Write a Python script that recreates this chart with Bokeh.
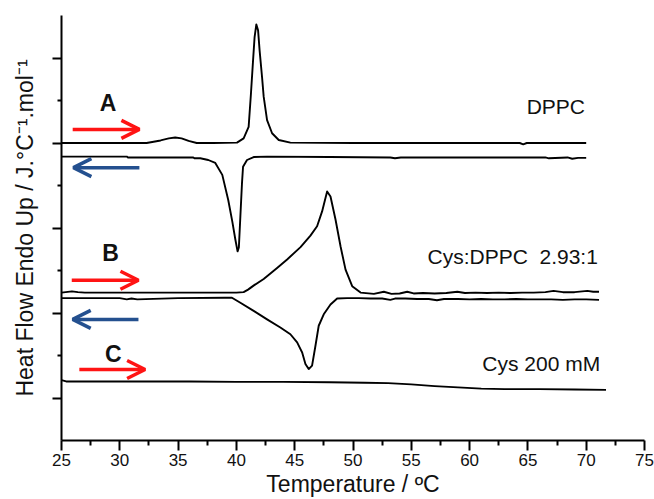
from bokeh.plotting import figure
from bokeh.models import Range1d, FixedTicker, Arrow, OpenHead
from bokeh.embed import file_html
from bokeh.resources import INLINE
from bokeh.core.properties import value

# ---------------- data ----------------
# A: DPPC heating scan
a_heat_t = [25.0, 30.0, 32.3, 33.5, 34.2, 34.75, 35.3, 35.9, 36.6, 38.0, 40.05, 40.62, 41.05,
            41.25, 41.43, 41.56, 41.71, 41.86, 41.99, 42.20, 42.34, 42.63, 43.06, 43.63,
            44.63, 50.0, 55.0, 60.0, 64.3, 64.6, 64.9, 70.0]
a_heat_hf = [7.00, 7.00, 7.00, 7.06, 7.11, 7.13, 7.11, 7.05, 7.00, 7.00, 7.01, 7.11, 7.38,
             8.17, 8.95, 9.49, 9.79, 9.65, 9.18, 8.55, 8.09, 7.54, 7.23, 7.07,
             7.01, 7.00, 7.00, 7.00, 7.00, 6.97, 7.00, 7.00]
# A: DPPC cooling scan
a_cool_t = [25.0, 30.6, 30.7, 36.3, 36.4, 36.9, 37.59, 38.19, 38.79, 39.30, 39.65, 39.91,
            40.10, 40.21, 40.34, 40.48, 40.57, 40.91, 41.48, 42.63, 48.0, 53.2, 53.6, 54.1,
            60.0, 66.5, 66.8, 68.4, 68.8, 69.3, 70.0]
a_cool_hf = [6.68, 6.68, 6.66, 6.66, 6.64, 6.64, 6.60, 6.53, 6.25, 5.66, 5.15, 4.73,
             4.45, 4.54, 5.27, 6.06, 6.44, 6.60, 6.67, 6.68, 6.67, 6.66, 6.64, 6.66,
             6.66, 6.66, 6.64, 6.66, 6.63, 6.65, 6.65]
# B: Cys:DPPC 2.93:1 heating scan
b_heat_t = [25.0, 25.9, 26.4, 27.0, 30.0, 35.0, 40.0, 40.62, 41.0, 41.5, 42.34, 43.49, 44.35,
            45.50, 46.35, 46.92, 47.35, 47.78, 48.07, 48.50, 48.93, 49.36, 49.93, 50.65,
            51.79, 52.65, 53.3, 54.0, 54.65, 55.2, 56.0, 57.0, 58.0, 58.95, 59.6, 60.5,
            61.5, 62.5, 63.5, 64.5, 65.5, 66.5, 67.2, 68.0, 69.0, 70.1, 70.6, 71.1]
b_heat_hf = [3.48, 3.51, 3.49, 3.48, 3.48, 3.48, 3.48, 3.49, 3.55, 3.65, 3.80, 4.06, 4.26,
             4.55, 4.82, 5.04, 5.39, 5.86, 5.74, 5.20, 4.57, 4.02, 3.63, 3.48,
             3.45, 3.50, 3.45, 3.46, 3.50, 3.46, 3.47, 3.46, 3.47, 3.50, 3.47, 3.48,
             3.47, 3.48, 3.47, 3.48, 3.48, 3.49, 3.52, 3.49, 3.49, 3.52, 3.50, 3.50]
# B: Cys:DPPC 2.93:1 cooling scan
b_cool_t = [25.0, 30.0, 30.6, 31.0, 31.5, 35.0, 39.0, 39.62, 40.34, 41.48, 42.63, 43.77,
            44.63, 45.21, 45.64, 45.92, 46.20, 46.49, 46.78, 47.06, 47.49, 48.07, 48.64,
            49.5, 50.5, 51.5, 52.5, 53.2, 53.6, 54.5, 55.5, 56.5, 57.2, 57.8, 59.0, 60.0,
            61.0, 62.0, 63.0, 64.0, 65.0, 66.0, 67.0, 68.0, 69.0, 70.0, 71.1]
b_cool_hf = [3.35, 3.35, 3.32, 3.34, 3.32, 3.35, 3.36, 3.36, 3.24, 3.05, 2.85, 2.66,
             2.50, 2.31, 2.07, 1.80, 1.68, 1.76, 2.23, 2.70, 2.97, 3.20, 3.34,
             3.35, 3.35, 3.34, 3.34, 3.31, 3.34, 3.34, 3.33, 3.33, 3.30, 3.33, 3.33, 3.32,
             3.33, 3.32, 3.32, 3.33, 3.32, 3.32, 3.32, 3.31, 3.32, 3.32, 3.31]
# C: Cys 200 mM heating scan
c_heat_t = [25.0, 25.4, 28.0, 32.0, 36.0, 40.0, 44.0, 48.0, 51.0, 53.0, 55.0, 57.0,
            59.0, 61.0, 63.0, 66.0, 69.0, 71.7]
c_heat_hf = [1.42, 1.39, 1.39, 1.39, 1.39, 1.38, 1.38, 1.37, 1.36, 1.35, 1.32, 1.28,
             1.25, 1.22, 1.21, 1.21, 1.20, 1.19]

# sample names (right aligned)
name_text = ["DPPC", "Cys:DPPC\u00a0 2.93:1", "Cys 200 mM"]
name_x = [69.9, 71.0, 71.2]
name_y = [7.87, 4.34, 1.82]

# panel letters
letter_text = ["A", "B", "C"]
letter_x = [29.0, 29.2, 29.45]
letter_y = [7.93, 4.42, 2.03]

# scan direction arrows
arrow_x0 = [25.96, 31.68, 25.88, 31.60, 26.53]
arrow_x1 = [31.68, 26.02, 31.60, 25.96, 32.17]
arrow_y = [7.32, 6.42, 3.77, 2.85, 1.67]
arrow_color = ["#ff1414", "#24508f", "#ff1414", "#24508f", "#ff1414"]

x_ticks = [25, 30, 35, 40, 45, 50, 55, 60, 65, 70, 75]
x_minor = [27.5, 32.5, 37.5, 42.5, 47.5, 52.5, 57.5, 62.5, 67.5, 72.5]
y_ticks = [1, 3, 5, 7, 9]
y_minor = [2, 4, 6, 8]

FONT = "Liberation Sans"

# ---------------- figure ----------------
p = figure(width=654, height=499, x_range=Range1d(25, 75), y_range=Range1d(0, 10),
           output_backend="svg", toolbar_location=None,
           min_border_left=61, min_border_right=10, min_border_top=15, min_border_bottom=57)
p.outline_line_color = None
p.grid.visible = False
p.background_fill_color = "white"
p.border_fill_color = "white"

for t, h in [(a_heat_t, a_heat_hf), (a_cool_t, a_cool_hf), (b_heat_t, b_heat_hf),
             (b_cool_t, b_cool_hf), (c_heat_t, c_heat_hf)]:
    p.line(t, h, line_color="black", line_width=1.9, line_join="round")

p.text(x=name_x, y=name_y, text=name_text, text_align="right", text_baseline="middle",
       text_font=value(FONT), text_font_size="21px", text_color="#111111")
p.text(x=letter_x, y=letter_y, text=letter_text, text_align="center", text_baseline="middle",
       text_font=value(FONT), text_font_size="23px", text_font_style="bold", text_color="#111111")

for x0, x1, yy, col in zip(arrow_x0, arrow_x1, arrow_y, arrow_color):
    p.add_layout(Arrow(end=OpenHead(size=18, line_width=3.5, line_color=col),
                       x_start=x0, y_start=yy, x_end=x1, y_end=yy,
                       line_color=col, line_width=3.5))

xa = p.xaxis[0]
xa.ticker = FixedTicker(ticks=x_ticks, minor_ticks=x_minor)
xa.axis_label = "Temperature / ºC"
xa.major_tick_in = 0
xa.major_tick_out = 10
xa.minor_tick_in = 0
xa.minor_tick_out = 5
xa.major_label_standoff = 3
xa.axis_label_standoff = 2

ya = p.yaxis[0]
ya.ticker = FixedTicker(ticks=y_ticks, minor_ticks=y_minor)
ya.major_label_overrides = {float(t): "" for t in y_ticks}
ya.axis_label = "Heat Flow Endo Up / J.°C⁻¹.mol⁻¹"
ya.major_tick_in = 0
ya.major_tick_out = 9
ya.minor_tick_in = 0
ya.minor_tick_out = 4
ya.axis_label_standoff = 15

for ax in (xa, ya):
    ax.axis_line_width = 2
    ax.axis_line_color = "black"
    ax.major_tick_line_width = 2
    ax.minor_tick_line_width = 2
    ax.major_tick_line_color = "black"
    ax.minor_tick_line_color = "black"
    ax.major_label_text_font = FONT
    ax.major_label_text_font_size = "17px"
    ax.major_label_text_color = "#111111"
    ax.axis_label_text_font = FONT
    ax.axis_label_text_font_size = "23px"
    ax.axis_label_text_font_style = "normal"
    ax.axis_label_text_color = "#111111"

open("out.html", "w").write(file_html(p, INLINE))
